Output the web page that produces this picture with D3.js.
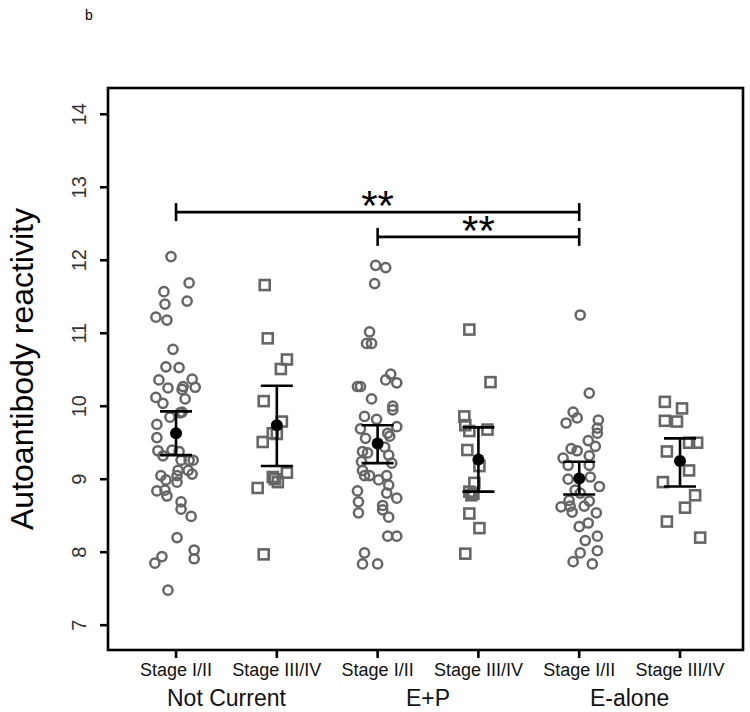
<!DOCTYPE html>
<html>
<head>
<meta charset="utf-8">
<script src="https://cdn.jsdelivr.net/npm/d3@7"></script>
<style>
  html, body { margin: 0; padding: 0; background: #fff; }
  svg { display: block; font-family: Arial, "Liberation Sans", sans-serif; }
</style>
</head>
<body>
<svg id="chart" width="750" height="712"></svg>
<script>
// ---------- data ----------
const categories = ["Stage I/II", "Stage III/IV", "Stage I/II", "Stage III/IV", "Stage I/II", "Stage III/IV"];
const groupLabels = ["Not Current", "E+P", "E-alone"];
const yTicks = [7, 8, 9, 10, 11, 12, 13, 14];
const shapes = ["circle", "square", "circle", "square", "circle", "square"];

const values1 = [12.05,11.69,11.57,11.44,11.40,11.22,11.18,10.78,10.54,10.53,10.36,10.25,10.37,10.27,10.26,10.23,10.12,10.04,10.10,9.92,9.85,9.75,9.91,9.57,9.39,9.32,9.40,9.38,9.26,9.26,9.26,9.12,9.12,9.07,9.05,9.05,8.99,8.96,8.84,8.85,8.77,8.69,8.59,8.49,8.20,8.03,7.91,7.94,7.85,7.48];
const jitter1 = [-0.05,0.13,-0.12,0.11,-0.11,-0.20,-0.09,-0.03,-0.10,0.03,-0.17,-0.08,0.16,0.07,0.19,0.06,-0.20,-0.13,0.09,0.06,-0.06,-0.19,0.04,-0.19,-0.18,-0.13,-0.04,0.03,0.05,0.13,0.17,0.12,0.02,0.16,0.01,-0.15,-0.10,0.01,-0.19,-0.11,-0.09,0.05,0.05,0.15,0.01,0.18,0.18,-0.14,-0.21,-0.08];

const values2 = [11.66,10.93,10.64,10.51,10.07,9.79,9.63,9.62,9.51,9.09,9.03,8.96,9.00,8.88,7.97];
const jitter2 = [-0.12,-0.09,0.10,0.04,-0.13,0.05,-0.04,0.00,-0.14,0.10,-0.04,0.01,-0.02,-0.19,-0.13];

const values3 = [11.93,11.90,11.68,11.02,10.86,10.86,10.44,10.36,10.32,10.27,10.27,10.10,10.00,9.86,9.82,9.95,9.72,9.69,9.63,9.59,9.56,9.44,9.38,9.36,9.33,9.24,9.22,9.12,9.05,9.05,9.05,8.99,8.92,8.84,8.81,8.74,8.69,8.64,8.58,8.54,8.48,8.22,8.22,7.99,7.84,7.84];
const jitter3 = [-0.02,0.08,-0.03,-0.08,-0.11,-0.06,0.13,0.08,0.19,-0.17,-0.20,-0.06,0.15,-0.13,-0.01,0.15,0.19,-0.17,0.10,0.12,-0.12,0.07,-0.15,-0.10,0.11,-0.16,0.14,-0.15,-0.13,-0.08,0.09,0.01,0.11,-0.20,0.09,0.19,-0.19,0.05,0.05,-0.19,0.11,0.10,0.19,-0.13,-0.15,0.00];

const values4 = [11.05,10.33,9.86,9.74,9.66,9.68,9.40,9.18,8.95,8.83,8.80,8.78,8.53,8.33,7.98];
const jitter4 = [-0.09,0.12,-0.14,-0.13,-0.09,0.09,-0.11,0.01,-0.04,-0.09,-0.05,-0.07,-0.09,0.01,-0.13];

const values5 = [11.25,10.18,9.92,9.77,9.84,9.81,9.70,9.63,9.53,9.45,9.42,9.39,9.29,9.32,9.19,9.19,9.00,9.03,8.90,8.85,8.81,8.71,8.70,8.62,8.63,8.63,8.55,8.54,8.40,8.35,8.22,8.16,8.02,7.99,7.87,7.84];
const jitter5 = [0.01,0.10,-0.06,-0.13,-0.02,0.19,0.18,0.18,0.09,0.16,-0.08,-0.02,-0.16,0.10,-0.11,0.10,-0.11,0.11,0.20,-0.04,0.01,-0.10,0.10,-0.18,-0.09,0.05,-0.07,0.17,0.09,0.00,0.18,0.06,0.18,0.01,-0.06,0.13];

const values6 = [10.06,9.97,9.80,9.79,9.50,9.50,9.38,9.12,8.96,8.78,8.61,8.42,8.20];
const jitter6 = [-0.15,0.02,-0.15,-0.03,0.09,0.17,-0.13,0.09,-0.17,0.15,0.05,-0.13,0.20];

const means = [9.63, 9.74, 9.49, 9.27, 9.01, 9.25];
const lowers = [9.33, 9.18, 9.22, 8.83, 8.79, 8.90];
const uppers = [9.93, 10.28, 9.74, 9.71, 9.24, 9.56];

const bracketFrom = [1, 3];
const bracketTo = [5, 5];
const bracketLevel = [12.66, 12.32];
const bracketText = ["**", "**"];

// ---------- layout ----------
const svg = d3.select("#chart");
const plotLeft = 108, plotRight = 743, plotTop = 88, plotBottom = 650;

const x = d3.scaleLinear().domain([0.325, 6.625]).range([plotLeft, plotRight]);
const y = d3.scaleLinear().domain([6.66, 14.36]).range([plotBottom, plotTop]);

const allValues = [values1, values2, values3, values4, values5, values6];
const allJitter = [jitter1, jitter2, jitter3, jitter4, jitter5, jitter6];

// points
const pointColor = "#666666";
allValues.forEach((vals, gi) => {
  const pts = vals.map((v, i) => ({ x: gi + 1 + allJitter[gi][i], y: v }));
  const g = svg.append("g");
  if (shapes[gi] === "circle") {
    g.selectAll("circle").data(pts).enter().append("circle")
      .attr("cx", d => x(d.x)).attr("cy", d => y(d.y)).attr("r", 4.6)
      .attr("fill", "none").attr("stroke", pointColor).attr("stroke-width", 2.5);
  } else {
    const s = 10;
    g.selectAll("rect").data(pts).enter().append("rect")
      .attr("x", d => x(d.x) - s / 2).attr("y", d => y(d.y) - s / 2)
      .attr("width", s).attr("height", s)
      .attr("fill", "none").attr("stroke", pointColor).attr("stroke-width", 2.6);
  }
});

// error bars + means
const eb = svg.append("g").attr("stroke", "#000").attr("stroke-width", 2.6);
means.forEach((m, i) => {
  const cx = x(i + 1);
  eb.append("line").attr("x1", cx).attr("x2", cx).attr("y1", y(lowers[i])).attr("y2", y(uppers[i]));
  [lowers[i], uppers[i]].forEach(v => {
    eb.append("line").attr("x1", cx - 16).attr("x2", cx + 16).attr("y1", y(v)).attr("y2", y(v));
  });
});
svg.append("g").selectAll("circle").data(means).enter().append("circle")
  .attr("cx", (d, i) => x(i + 1)).attr("cy", d => y(d)).attr("r", 6).attr("fill", "#000");

// significance brackets
bracketLevel.forEach((lv, i) => {
  const g = svg.append("g").attr("stroke", "#000").attr("stroke-width", 2.6);
  const x1 = x(bracketFrom[i]), x2 = x(bracketTo[i]), yy = y(lv);
  g.append("line").attr("x1", x1).attr("x2", x2).attr("y1", yy).attr("y2", yy);
  g.append("line").attr("x1", x1).attr("x2", x1).attr("y1", yy - 9).attr("y2", yy + 9);
  g.append("line").attr("x1", x2).attr("x2", x2).attr("y1", yy - 9).attr("y2", yy + 9);
  svg.append("text").attr("x", (x1 + x2) / 2).attr("y", yy + 8)
    .attr("text-anchor", "middle").attr("font-size", 42).attr("fill", "#000")
    .text(bracketText[i]);
});

// box
svg.append("rect").attr("x", plotLeft).attr("y", plotTop).attr("width", plotRight - plotLeft).attr("height", plotBottom - plotTop)
  .attr("fill", "none").attr("stroke", "#000").attr("stroke-width", 2.6);

// y axis
const ya = svg.append("g");
yTicks.forEach(t => {
  ya.append("line").attr("x1", plotLeft - 8).attr("x2", plotLeft).attr("y1", y(t)).attr("y2", y(t))
    .attr("stroke", "#000").attr("stroke-width", 2.6);
  ya.append("text").attr("transform", `translate(86,${y(t)}) rotate(-90)`)
    .attr("text-anchor", "middle").attr("font-size", 20).attr("fill", "#333").text(t);
});
svg.append("text").attr("transform", `translate(33,${(plotTop + plotBottom) / 2}) rotate(-90)`)
  .attr("text-anchor", "middle").attr("font-size", 32).attr("fill", "#000")
  .text("Autoantibody reactivity");

// x axis
const xa = svg.append("g");
categories.forEach((c, i) => {
  const cx = x(i + 1);
  xa.append("line").attr("x1", cx).attr("x2", cx).attr("y1", plotBottom).attr("y2", plotBottom + 8)
    .attr("stroke", "#000").attr("stroke-width", 2.6);
  xa.append("text").attr("x", cx).attr("y", 676).attr("text-anchor", "middle")
    .attr("font-size", 18).attr("fill", "#111").text(c);
});
groupLabels.forEach((g, i) => {
  xa.append("text").attr("x", x(2 * i + 1.5)).attr("y", 706).attr("text-anchor", "middle")
    .attr("font-size", 23).attr("fill", "#111").text(g);
});

// panel label
svg.append("text").attr("x", 85).attr("y", 20).attr("font-size", 14).attr("fill", "#000").text("b");
</script>
</body>
</html>
